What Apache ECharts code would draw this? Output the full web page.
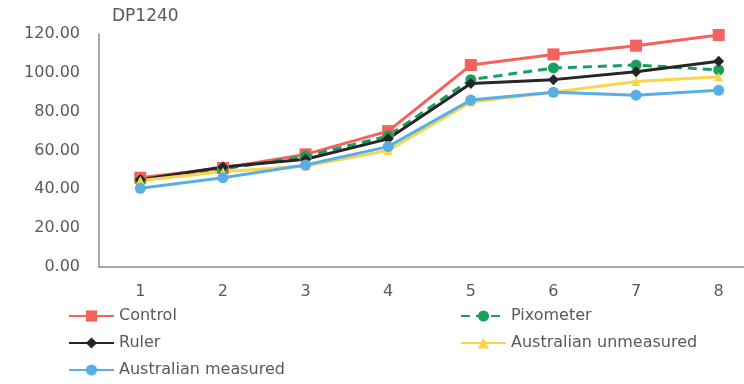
<!DOCTYPE html>
<html><head><meta charset="utf-8">
<script src="https://cdn.jsdelivr.net/npm/echarts@6/dist/echarts.min.js"></script>
<style>html,body{margin:0;padding:0;background:#fff;overflow:hidden}#c{width:760px;height:384px}</style>
</head><body><div id="c"></div>
<script>
const categories = ['1','2','3','4','5','6','7','8'];
const control = [46, 51, 58, 70, 104, 109.5, 114, 119.5];
const pixometer = [44.5, 50.5, 57, 67.5, 96.5, 102.5, 104, 101.5];
const ruler = [45, 51.5, 55.5, 66, 94.5, 96.5, 100.5, 106];
const ausUnmeasured = [44.5, 49, 52, 60, 85, 90, 95.5, 98];
const ausMeasured = [40.5, 46, 52.5, 62, 86, 90, 88.5, 91];
const yTicks = [0, 20, 40, 60, 80, 100, 120];

const font = 'DejaVu Sans, Liberation Sans, sans-serif';
const txt = { fontFamily: font, fontSize: 16, color: '#595959' };
const chart = echarts.init(document.getElementById('c'));
function s(name, data, color, symbol, size, dashed) {
  return {
    name, type: 'line', data, symbol, symbolSize: size,
    lineStyle: { color, width: 3, type: dashed ? [9, 6] : 'solid' },
    itemStyle: { color },
    animation: false
  };
}
function lg(name, left, top) {
  return { left, top, itemWidth: 45, itemHeight: 14, padding: 0, data: [name], textStyle: txt };
}
chart.setOption({
  animation: false,
  title: { text: 'DP1240', left: 112, top: 8, padding: 0, textStyle: { fontFamily: font, fontWeight: 'normal', fontSize: 17, color: '#595959' } },
  grid: { left: 99, top: 34, bottom: 117, right: 0 },
  legend: [
    lg('Control', 68, 308),
    lg('Ruler', 68, 335),
    lg('Australian measured', 68, 362),
    lg('Pixometer', 460, 308),
    lg('Australian unmeasured', 460, 335)
  ],
  xAxis: {
    type: 'category', data: categories, boundaryGap: true,
    axisLine: { lineStyle: { color: '#8c8c8c', width: 1.5 } },
    axisTick: { show: false },
    axisLabel: Object.assign({ margin: 17 }, txt)
  },
  yAxis: {
    type: 'value', min: yTicks[0], max: yTicks[yTicks.length - 1], interval: 20,
    axisLine: { show: true, lineStyle: { color: '#8c8c8c', width: 1.5 } },
    axisTick: { show: false }, splitLine: { show: false },
    axisLabel: Object.assign({ margin: 19, formatter: v => v.toFixed(2) }, txt)
  },
  series: [
    s('Control', control, '#f4625b', 'rect', 12),
    s('Pixometer', pixometer, '#17a05d', 'circle', 11, true),
    s('Ruler', ruler, '#262626', 'diamond', 11),
    s('Australian unmeasured', ausUnmeasured, '#f7d64a', 'triangle', 9),
    s('Australian measured', ausMeasured, '#5aaee6', 'circle', 11)
  ]
});
</script></body></html>
